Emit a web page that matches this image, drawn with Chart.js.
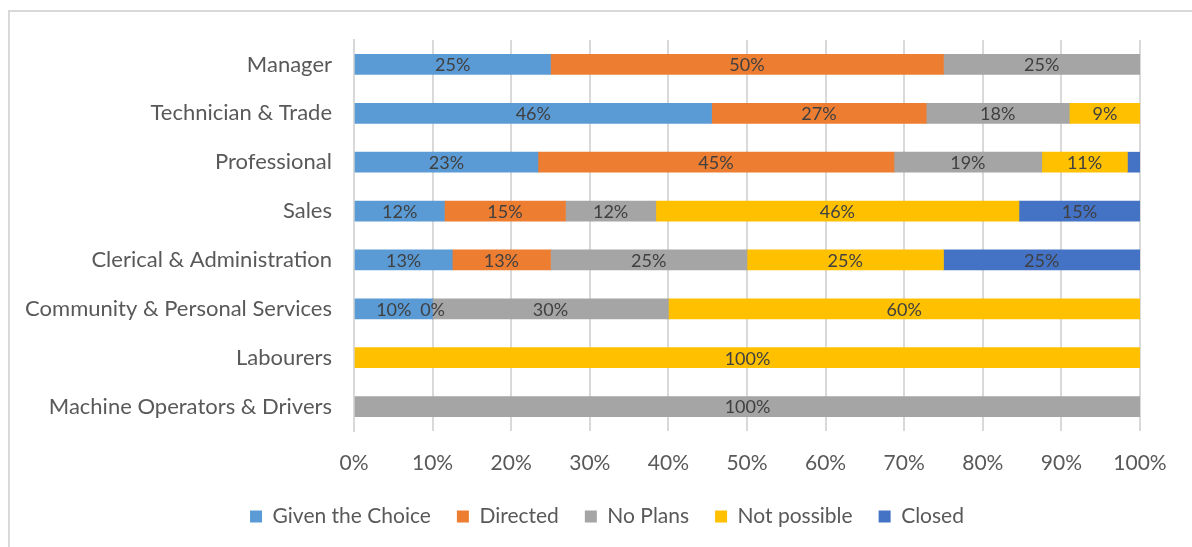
<!DOCTYPE html>
<html>
<head>
<meta charset="utf-8">
<script src="https://cdn.jsdelivr.net/npm/chart.js@4"></script>
<style>
  html, body { margin: 0; padding: 0; background: #fff; }
  #wrap { width: 1192px; height: 547px; position: relative; }
</style>
</head>
<body>
<div id="wrap"><canvas id="bar-chart"></canvas></div>
<script>
// occupations, top to bottom
labelsArray = ['Manager', 'Technician & Trade', 'Professional', 'Sales',
  'Clerical & Administration', 'Community & Personal Services', 'Labourers',
  'Machine Operators & Drivers']

// shares in percent per occupation (null = no answer in that group)
givenChoice = [25, 45.5, 23.4, 11.5, 12.5, 10, null, null]
directed    = [50, 27.3, 45.3, 15.4, 12.5, 0, null, null]
noPlans     = [25, 18.2, 18.8, 11.5, 25, 30, null, 100]
notPossible = [null, 9.1, 10.9, 46.2, 25, 60, 100, null]
closedShare = [null, null, 1.6, 15.4, 25, null, null, null]

tickLabels = ['0%', '10%', '20%', '30%', '40%', '50%', '60%', '70%', '80%', '90%', '100%']

fontName = 'Lato'
textGrey = '#595959'

// writes the rounded percentage in the middle of each segment
barLabels = {
  id: 'barLabels',
  afterDatasetsDraw: function(chart){
    var ctx = chart.ctx
    ctx.save()
    ctx.font = '18px ' + fontName
    ctx.fillStyle = '#404040'
    ctx.textAlign = 'center'
    ctx.textBaseline = 'middle'
    chart.data.datasets.forEach(function(ds, i){
      var meta = chart.getDatasetMeta(i)
      meta.data.forEach(function(bar, j){
        var v = ds.data[j]
        if (v === null || (v > 0 && v < 3)) return
        ctx.fillText(Math.round(v) + '%', (bar.x + bar.base) / 2, bar.y + 1)
      })
    })
    ctx.restore()
  }
}

// light frame round the whole chart
chartFrame = {
  id: 'chartFrame',
  beforeDraw: function(chart){
    var ctx = chart.ctx
    ctx.save()
    ctx.strokeStyle = '#d9d9d9'
    ctx.lineWidth = 2
    ctx.strokeRect(9, 11, 1300, 700)
    ctx.restore()
  }
}

// nudge the legend a bit to the right
legendShift = {
  id: 'legendShift',
  afterLayout: function(chart){
    chart.legend.left += 32
    chart.legend.right += 32
  }
}

window.onload = function(){
  ctx = document.getElementById('bar-chart')
  config = {
    type: 'bar',
    data: {
      labels: labelsArray,
      datasets: [
        { label: 'Given the Choice', data: givenChoice, backgroundColor: '#5B9BD5' },
        { label: 'Directed', data: directed, backgroundColor: '#ED7D31' },
        { label: 'No Plans', data: noPlans, backgroundColor: '#A5A5A5' },
        { label: 'Not possible', data: notPossible, backgroundColor: '#FFC000' },
        { label: 'Closed', data: closedShare, backgroundColor: '#4472C4' }
      ]
    },
    options: {
      indexAxis: 'y',
      responsive: false,
      animation: false,
      barThickness: 20,
      layout: { padding: { top: 40, left: 10, right: 52, bottom: 10 } },
      scales: {
        x: {
          stacked: true,
          min: 0,
          max: 100,
          grid: { color: '#d9d9d9', lineWidth: 2, drawTicks: false },
          border: { display: false },
          ticks: {
            stepSize: 10,
            padding: 20,
            color: textGrey,
            font: { family: fontName, size: 21 },
            callback: function(v, i){ return tickLabels[i] }
          },
          afterFit: function(scale){ scale.height = 49 }
        },
        y: {
          stacked: true,
          grid: { display: false, drawTicks: false },
          border: { display: true, color: '#d9d9d9', width: 2 },
          ticks: {
            padding: 22,
            color: textGrey,
            font: { family: fontName, size: 22 }
          },
          afterFit: function(scale){ scale.width = 344 }
        }
      },
      plugins: {
        tooltip: { enabled: false },
        legend: {
          position: 'bottom',
          labels: {
            boxWidth: 12,
            boxHeight: 12,
            padding: 26,
            color: textGrey,
            font: { family: fontName, size: 21 }
          }
        }
      }
    },
    plugins: [barLabels, chartFrame, legendShift]
  }
  ctx.width = 1192
  ctx.height = 547
  createNewChart = new Chart(ctx, config)
}
</script>
</body>
</html>
